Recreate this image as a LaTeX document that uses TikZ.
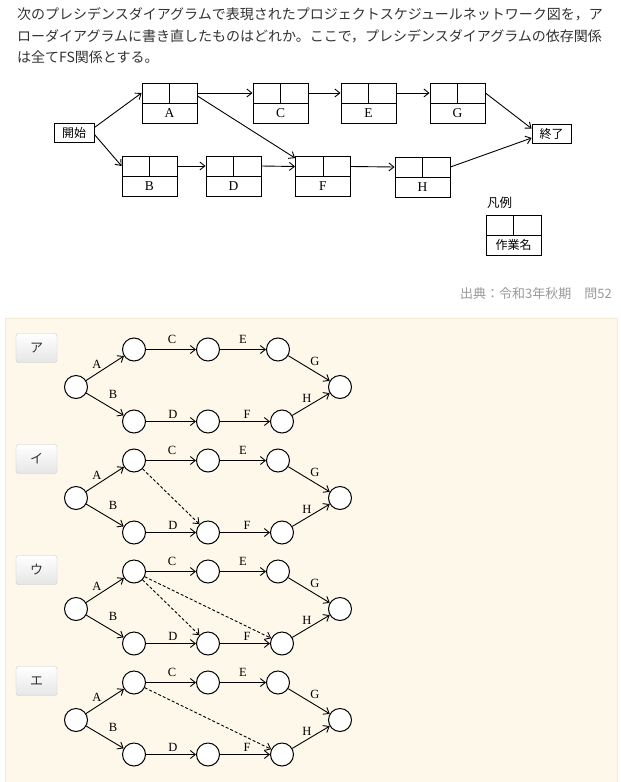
\documentclass[tikz,border=0pt]{standalone}
\usepackage{fontspec}
\setmainfont{Liberation Serif}
\newfontfamily\jp{Noto Sans CJK JP}
\usetikzlibrary{arrows.meta}
\definecolor{txt}{HTML}{333333}
\definecolor{src}{HTML}{999999}
\definecolor{panelbg}{HTML}{FDF8E9}
\definecolor{panelbd}{HTML}{F2EBD6}
\definecolor{btnbd}{HTML}{CCCCCC}
\definecolor{btnbot}{HTML}{E6E6E6}
\tikzset{
  qtext/.style={anchor=west, inner sep=0pt, text=txt, font=\jp\fontsize{14}{14}\selectfont},
  pbox/.style={draw, line width=0.9pt, minimum width=55pt, minimum height=40pt, inner sep=0pt,
    path picture={\draw[line width=0.9pt] (path picture bounding box.west) -- (path picture bounding box.east);
                  \draw[line width=0.9pt] (path picture bounding box.north) -- (path picture bounding box.center);}},
  ltr/.style={inner sep=0pt, font=\fontsize{13.5}{13.5}\selectfont},
  tbox/.style={draw, line width=0.9pt, minimum width=40pt, minimum height=19pt, inner sep=0pt, font=\jp\fontsize{12}{12}\selectfont},
  ar/.style={line width=0.9pt, -{Straight Barb[length=5pt,width=8pt]}},
  dar/.style={ar, dash pattern=on 3pt off 2pt},
  ev/.style={circle, draw, fill=white, line width=1pt, minimum size=23pt, inner sep=0pt},
  btn/.style={rounded corners=2.5pt, draw=btnbd, top color=white, bottom color=btnbot, minimum width=41pt, minimum height=29pt, inner sep=0pt, font=\jp\fontsize{13}{13}\selectfont, text=txt},
  lbl/.style={inner sep=0pt, font=\fontsize{12.5}{12.5}\selectfont},
}
\newcommand{\pbx}[3]{\node[pbox] (#1) at (#2) {}; \node[ltr] (#1t) at ([yshift=-10pt]#1.center) {#3};}
\newcommand{\adpanel}[3]{%
  \node[btn] (#1btn) at (36.5,#2-39) {#3};
  \node[ev] (#1s) at (76,#2) {};
  \node[ev] (#1t1) at (134,#2-37.5) {};
  \node[ev] (#1t2) at (208,#2-37.5) {};
  \node[ev] (#1t3) at (278,#2-37.5) {};
  \node[ev] (#1e) at (340,#2) {};
  \node[ev] (#1b1) at (134,#2+34.5) {};
  \node[ev] (#1b2) at (208,#2+34.5) {};
  \node[ev] (#1b3) at (282,#2+34.5) {};
  \draw[ar] (#1s) -- (#1t1) node[lbl] at (97,#2-23) {A};
  \draw[ar] (#1s) -- (#1b1) node[lbl] at (113,#2+7) {B};
  \draw[ar] (#1t1) -- (#1t2) node[lbl] at (172,#2-47.5) {C};
  \draw[ar] (#1t2) -- (#1t3) node[lbl] at (243,#2-47.5) {E};
  \draw[ar] (#1t3) -- (#1e) node[lbl] at (315,#2-25.5) {G};
  \draw[ar] (#1b1) -- (#1b2) node[lbl] at (173,#2+27) {D};
  \draw[ar] (#1b2) -- (#1b3) node[lbl] at (247,#2+27) {F};
  \draw[ar] (#1b3) -- (#1e) node[lbl] at (307,#2+11) {H};
}
\begin{document}
\begin{tikzpicture}[x=1pt,y=-1pt]
\useasboundingbox[fill=white] (0,0) rectangle (621,782);
% question text
\node[qtext] (q1) at (17,14) {次のプレシデンスダイアグラムで表現されたプロジェクトスケジュールネットワーク図を，ア};
\node[qtext] (q2) at (17,36) {ローダイアグラムに書き直したものはどれか。ここで，プレシデンスダイアグラムの依存関係};
\node[qtext] (q3) at (17,57.5) {は全てFS関係とする。};
% precedence diagram
\node[tbox] (S) at (74,132.5) {開始};
\node[tbox, minimum width=39pt] (T) at (551.5,133.5) {終了};
\pbx{A}{169.5,103}{A}
\pbx{C}{280.5,103}{C}
\pbx{E}{368.5,103}{E}
\pbx{G}{457.5,103}{G}
\pbx{B}{149.5,176}{B}
\pbx{D}{233.5,176}{D}
\pbx{F}{323,176.5}{F}
\pbx{H}{422.5,177}{H}
\draw[ar] ([yshift=5pt]S.east) -- ([yshift=10pt]A.west);
\draw[ar] ([yshift=-2pt]S.east) -- ([yshift=10pt]B.west);
\draw[ar] ([yshift=10pt]A.east) -- ([yshift=10pt]C.west);
\draw[ar] ([yshift=7pt]A.east) -- ([yshift=-2pt]F.north west);
\draw[ar] ([yshift=10pt]C.east) -- ([yshift=10pt]E.west);
\draw[ar] ([yshift=10pt]E.east) -- ([yshift=10pt]G.west);
\draw[ar] ([yshift=10pt]B.east) -- ([yshift=10pt]D.west);
\draw[ar] ([yshift=10pt]D.east) -- ([yshift=10pt]F.west);
\draw[ar] ([yshift=10pt]F.east) -- ([yshift=10pt]H.west);
\draw[ar] ([yshift=10pt]G.east) -- ([yshift=5pt]T.west);
\draw[ar] ([yshift=10pt]H.east) -- ([yshift=-4.5pt]T.west);
% legend
\node[inner sep=0pt, anchor=west, font=\jp\fontsize{12.5}{12.5}\selectfont] (lg) at (487,203) {凡例};
\node[pbox] (L) at (513.5,235) {};
\node[inner sep=0pt, font=\jp\fontsize{12}{12}\selectfont] (Lt) at ([yshift=-10pt]L.center) {作業名};
% source
\node[inner sep=0pt, anchor=east, text=src, font=\jp\fontsize{13}{13}\selectfont] (srcnote) at (612,294) {出典：令和3年秋期　問52};
% answer panel
\path[fill=panelbg, draw=panelbd] (5,318) rectangle (617,790);
\adpanel{a}{387}{ア}
\adpanel{i}{498}{イ}
\adpanel{u}{609}{ウ}
\adpanel{e}{720}{エ}
\draw[dar] (it1) -- (ib2);
\draw[dar] (ut1) -- (ub2);
\draw[dar] (ut1) -- (ub3);
\draw[dar] (et1) -- (eb3);
\end{tikzpicture}
\end{document}
